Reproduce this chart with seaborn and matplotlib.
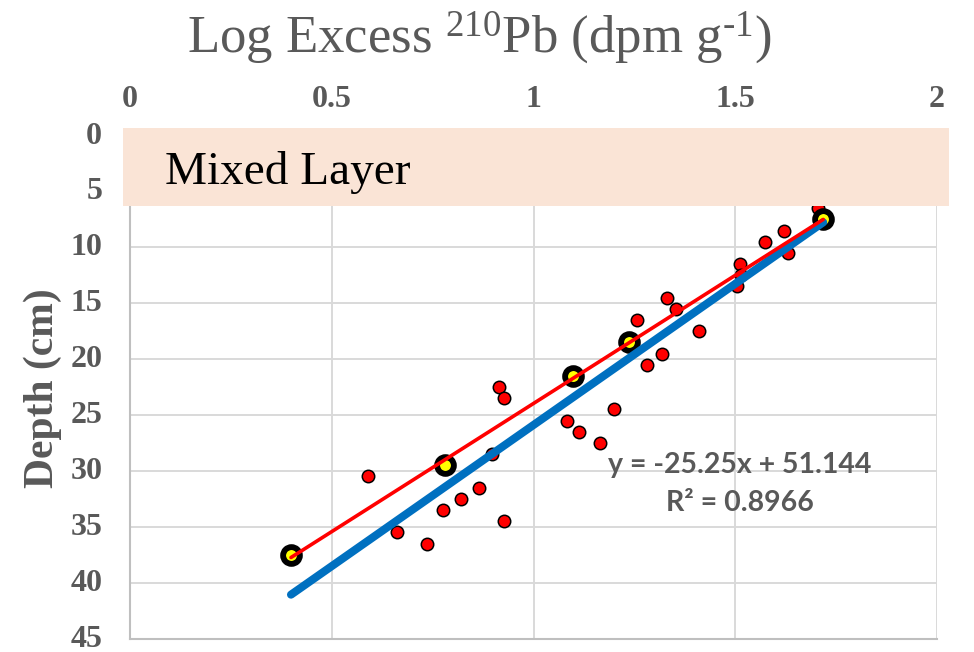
import numpy as np
import pandas as pd
import matplotlib
matplotlib.use("Agg")
import matplotlib.pyplot as plt
import matplotlib.transforms as mtransforms
from matplotlib.patches import Rectangle
import seaborn as sns

# ---------------- data ----------------
red_depth = [6.5, 8.5, 9.5, 10.5, 11.5, 12.5, 13.5, 14.5, 15.5, 16.5, 17.5,
             19.5, 20.5, 22.5, 23.5, 24.5, 25.5, 26.5, 27.5, 28.5, 30.5,
             31.5, 32.5, 33.5, 34.5, 35.5, 36.5]
red_logpb = [1.706, 1.621, 1.573, 1.631, 1.512, 1.515, 1.504, 1.331, 1.353,
             1.257, 1.410, 1.319, 1.282, 0.915, 0.927, 1.200, 1.083, 1.113,
             1.165, 0.897, 0.591, 0.865, 0.821, 0.776, 0.927, 0.661, 0.736]

yel_depth = [7.5, 18.5, 21.5, 29.5, 37.5]
yel_logpb = [1.718, 1.237, 1.098, 0.781, 0.399]

trend_slope = -25.25
trend_intercept = 51.144
trend_r2 = 0.8966

x_ticks = [0, 0.5, 1, 1.5, 2]
x_ticklabels = ["0", "0.5", "1", "1.5", "2"]
y_ticks = [0, 5, 10, 15, 20, 25, 30, 35, 40, 45]

red_df = pd.DataFrame({"logpb": red_logpb, "depth": red_depth})
yel_df = pd.DataFrame({"logpb": yel_logpb, "depth": yel_depth})
all_x = np.array(red_logpb + yel_logpb)
trend_x = np.array([all_x.min(), all_x.max()])
trend_df = pd.DataFrame({"logpb": trend_x,
                         "depth": trend_slope * trend_x + trend_intercept})

# ---------------- style ----------------
sns.set_theme(style="white")
plt.rcParams["font.family"] = ["Liberation Serif", "DejaVu Serif"]
plt.rcParams["mathtext.fontset"] = "custom"
plt.rcParams["mathtext.rm"] = "Liberation Serif"
plt.rcParams["mathtext.it"] = "Liberation Serif:italic"
plt.rcParams["mathtext.bf"] = "Liberation Serif:bold"

GRAY = "#595959"
W, H = 974, 652
fig = plt.figure(figsize=(W / 100, H / 100), dpi=100)
ax = fig.add_axes([130 / W, 1 - 638.6 / H, (937 - 130) / W, (638.6 - 135.5) / H])

# points
sns.scatterplot(data=red_df, x="logpb", y="depth", ax=ax, color="#FF0000",
                s=80, edgecolor="black", linewidth=1.1, zorder=3, legend=False)
sns.scatterplot(data=yel_df, x="logpb", y="depth", ax=ax, color="#FFFF00",
                s=146, edgecolor="black", linewidth=4.2, zorder=4, legend=False)
# blue trendline (all data)
sns.lineplot(data=trend_df, x="logpb", y="depth", ax=ax, color="#0070C0",
             lw=5.8, solid_capstyle="round", zorder=5, legend=False,
             estimator=None, sort=False)
# red fit of yellow points
sns.regplot(data=yel_df, x="logpb", y="depth", ax=ax, scatter=False, ci=None,
            truncate=True, line_kws=dict(color="#FF0000", lw=2.6, zorder=6))

ax.set_xlim(0, 2)
ax.set_ylim(45, 0)
ax.set_xticks(x_ticks)
ax.set_xticklabels(x_ticklabels)
ax.set_yticks(y_ticks)
ax.xaxis.tick_top()
ax.set_xlabel("")
ax.set_ylabel("")
ax.grid(True, color="#D9D9D9", lw=1.4)
ax.set_axisbelow(True)
for s in ["top", "right"]:
    ax.spines[s].set_visible(False)
for s in ["left", "bottom"]:
    ax.spines[s].set_color("#BFBFBF")
    ax.spines[s].set_linewidth(1.5)
ax.tick_params(axis="y", length=0, pad=20, labelsize=23, labelcolor=GRAY)
ax.tick_params(axis="x", length=0, pad=25, labelsize=23, labelcolor=GRAY)
shift_up = mtransforms.ScaledTranslation(0, 3 / 100, fig.dpi_scale_trans)
shift_down = mtransforms.ScaledTranslation(0, -13 / 100, fig.dpi_scale_trans)
for lab in ax.get_xticklabels():
    lab.set_fontweight("bold")
    lab.set_transform(lab.get_transform() + shift_down)
for lab in ax.get_yticklabels():
    lab.set_fontweight("bold")
    lab.set_transform(lab.get_transform() + shift_up)

# mixed layer band
band = Rectangle((-0.017, -0.7), 2.047, 6.98, transform=ax.transData,
                 clip_on=False, facecolor="#FAE4D6", edgecolor="none", zorder=10)
ax.add_patch(band)
ax.text(0.087, 4.34, "Mixed Layer", fontsize=34, color="black", ha="left",
        va="baseline", zorder=11)

# titles
fig.text(479 / W, 1 - 52 / H,
         r"Log Excess $^{\mathrm{210}}$Pb (dpm g$^{\text{-1}}$)",
         ha="center", va="baseline", fontsize=38, color=GRAY)
fig.text(43 / W, 1 - 388 / H, "Depth (cm)", rotation=90, ha="center",
         va="center", fontsize=30, fontweight="bold", color=GRAY)

# trendline equation
fig.text(740 / W, 1 - 465 / H,
         f"y = {trend_slope}x + {trend_intercept}",
         ha="center", va="center", fontsize=20.5, fontweight="bold",
         color=GRAY, family=["Lato", "DejaVu Sans"])
fig.text(740 / W, 1 - 503 / H, f"R² = {trend_r2}",
         ha="center", va="center", fontsize=20.5, fontweight="bold",
         color=GRAY, family=["Lato", "DejaVu Sans"])

fig.savefig("out.png", dpi=100)
